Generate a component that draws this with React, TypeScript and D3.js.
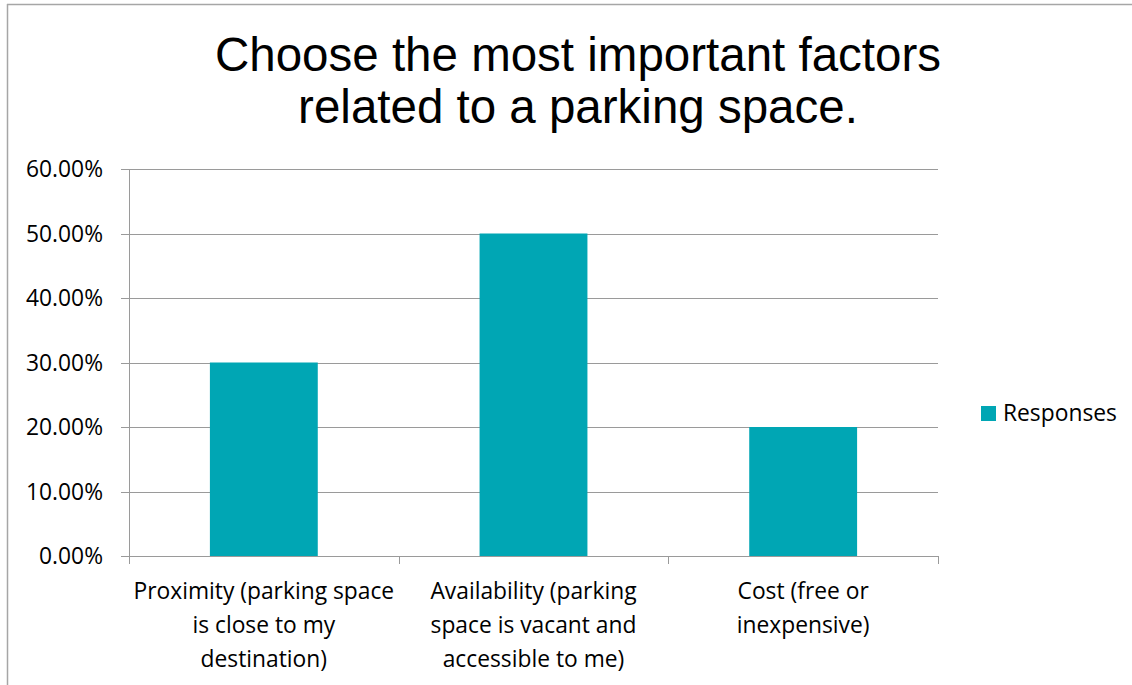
import * as d3 from "d3";

const categories = ["proximity", "availability", "cost"];
const categoryLines = [
    ["Proximity (parking space", "is close to my", "destination)"],
    ["Availability (parking", "space is vacant and", "accessible to me)"],
    ["Cost (free or", "inexpensive)"],
];
const responses = [0.3, 0.5, 0.2];
const yTicks = [0, 0.1, 0.2, 0.3, 0.4, 0.5, 0.6];
const titleLines = ["Choose the most important factors", "related to a parking space."];
const seriesName = "Responses";

function App() {
    const width = 1132
    const height = 685
    const plot = { left: 129, right: 938, top: 169, bottom: 556 }
    const barColor = "#00A6B4"
    const gridColor = "#9a9a9a"
    const labelFont = "'Open Sans', sans-serif"
    const labelSize = 22.8

    const x = d3.scaleBand().domain(categories).range([plot.left, plot.right]).paddingInner(0.6).paddingOuter(0.3);
    const y = d3.scaleLinear().domain([0, 0.6]).range([plot.bottom, plot.top]);
    const fmt = d3.format(".2%");
    const step = x.step();
    const catTicks = d3.range(categories.length + 1).map((i) => plot.left + i * step);

    return (
        <svg width={width} height={height} style={{ position: "absolute", left: 0, top: 0, background: "#ffffff" }}>
            {/* chart border */}
            <line x1={7} y1={4.5} x2={width} y2={4.5} stroke="#a6a6a6" strokeWidth={1.5}/>
            <line x1={7.5} y1={4} x2={7.5} y2={height} stroke="#a6a6a6" strokeWidth={1.5}/>

            {titleLines.map((t, i) => (
                <text key={t} x={578} y={71 + i * 52} textAnchor="middle" fontSize={47.5} fontFamily="'Liberation Sans', Arial, sans-serif" fill="#000">{t}</text>
            ))}

            {yTicks.map((tick) => (
                <g key={tick}>
                    <line x1={plot.left - 8} x2={plot.right} y1={Math.round(y(tick)) + 0.5} y2={Math.round(y(tick)) + 0.5} stroke={gridColor}/>
                    <text x={103} y={y(tick)} dy="0.36em" textAnchor="end" fontSize={labelSize} fontFamily={labelFont} fill="#000">{fmt(tick)}</text>
                </g>
            ))}

            {categories.map((c, i) => (
                <rect key={c} x={x(c)!} y={y(responses[i])} width={x.bandwidth()} height={plot.bottom - y(responses[i])} fill={barColor}/>
            ))}

            <line x1={plot.left + 0.5} x2={plot.left + 0.5} y1={plot.top} y2={plot.bottom} stroke={gridColor}/>
            {catTicks.map((t) => (
                <line key={t} x1={Math.round(t) + 0.5} x2={Math.round(t) + 0.5} y1={plot.bottom} y2={plot.bottom + 8} stroke={gridColor}/>
            ))}

            {categories.map((c, i) => (
                <text key={c} textAnchor="middle" fontSize={labelSize} fontFamily={labelFont} fill="#000">
                    {categoryLines[i].map((line, j) => (
                        <tspan key={line} x={x(c)! + x.bandwidth() / 2} y={599 + j * 34}>{line}</tspan>
                    ))}
                </text>
            ))}

            <rect x={981} y={406} width={15} height={15} fill={barColor}/>
            <text x={1003} y={413} dy="0.36em" fontSize={labelSize} fontFamily={labelFont} fill="#000">{seriesName}</text>
        </svg>
    )
}

export default App;
